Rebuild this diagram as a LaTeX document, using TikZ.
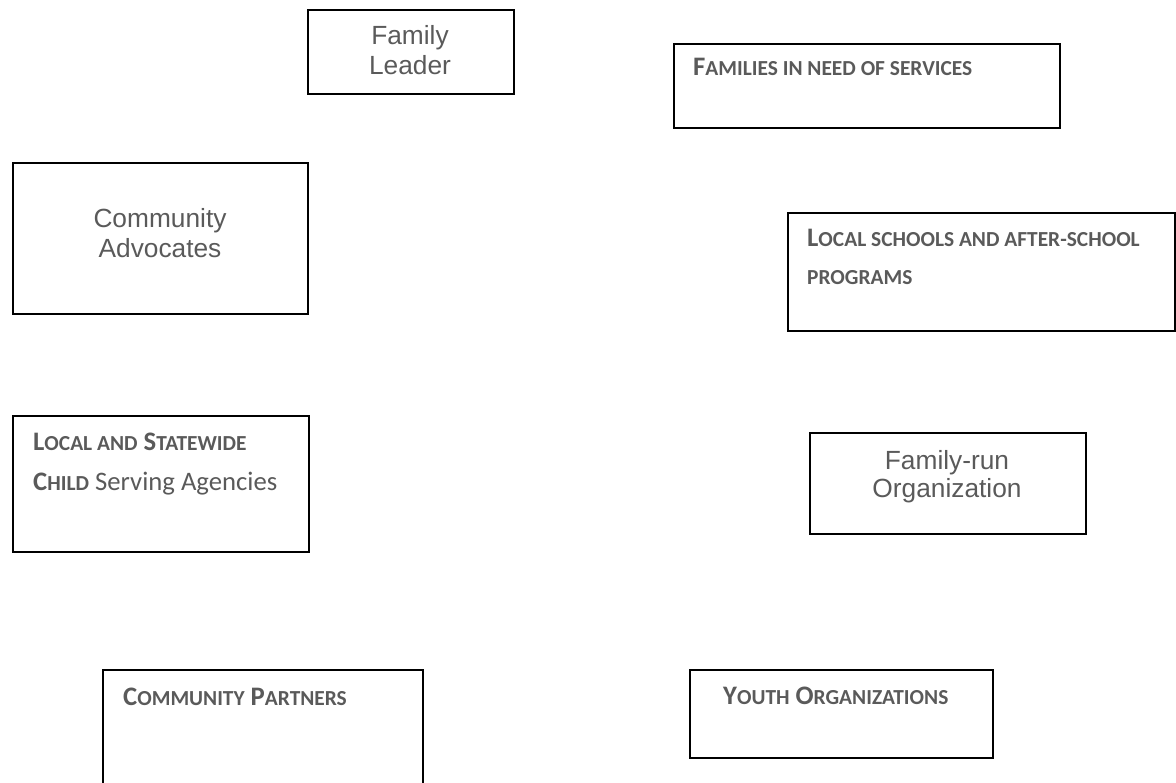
\documentclass[tikz,border=0pt]{standalone}
\usepackage{fontspec}
\setmainfont{Liberation Sans}
\newfontfamily\calib{Carlito}
\definecolor{txt}{HTML}{5A5A5A}
\newcommand\bigc[1]{{\fontsize{26.7}{30}\selectfont #1}}
\newcommand\smc[1]{{\fontsize{21.4}{26}\selectfont #1}}
\tikzset{
  box/.style={draw=black, line width=2.2pt, fill=none, inner sep=0pt, anchor=north west},
  arl/.style={text=txt, font=\fontsize{26.3}{30}\selectfont, inner sep=0pt, anchor=base},
  cal/.style={text=txt, font=\calib\bfseries\fontsize{26.7}{30}\selectfont, inner sep=0pt, anchor=base west},
}
\begin{document}
\begin{tikzpicture}[x=1pt,y=-1pt]
\useasboundingbox (0,0) rectangle (1176,783);
\clip (0,0) rectangle (1176,783);
% boxes
\node[box, minimum width=206pt, minimum height=84pt] (leader) at (307,9) {};
\node[box, minimum width=386pt, minimum height=84pt] (families) at (673,43) {};
\node[box, minimum width=295pt, minimum height=151pt] (advocates) at (12,162) {};
\node[box, minimum width=387pt, minimum height=118pt] (schools) at (787,212) {};
\node[box, minimum width=296pt, minimum height=136pt] (agencies) at (12,415) {};
\node[box, minimum width=276pt, minimum height=101pt] (familyrun) at (809,432) {};
\node[box, minimum width=320pt, minimum height=140pt] (partners) at (102,669) {};
\node[box, minimum width=303pt, minimum height=88pt] (youth) at (689,669) {};
% Arial texts
\node[arl] (leaderA) at (410,45) {Family};
\node[arl] (leaderB) at (410,75) {Leader};
\node[arl] (advA) at (160,228) {Community};
\node[arl] (advB) at (160,258) {Advocates};
\node[arl] (frA) at (947,470) {Family-run};
\node[arl] (frB) at (947,497) {Organization};
% Calibri small-caps texts
\node[cal] (famT) at (693,76) {\bigc{F}\smc{AMILIES IN NEED OF SERVICES}};
\node[cal] (schA) at (807,247) {\bigc{L}\smc{OCAL SCHOOLS AND AFTER-SCHOOL}};
\node[cal] (schB) at (807,285) {\smc{PROGRAMS}};
\node[cal] (agA) at (33,451) {\bigc{L}\smc{OCAL AND} \bigc{S}\smc{TATEWIDE}};
\node[cal] (agB) at (33,490) {\bigc{C}\smc{HILD}\mdseries{} Serving Agencies};
\node[cal] (parT) at (123,705) {\bigc{C}\smc{OMMUNITY} \bigc{P}\smc{ARTNERS}};
\node[cal] (youT) at (723,704) {\bigc{Y}\smc{OUTH} \bigc{O}\smc{RGANIZATIONS}};
\end{tikzpicture}
\end{document}
